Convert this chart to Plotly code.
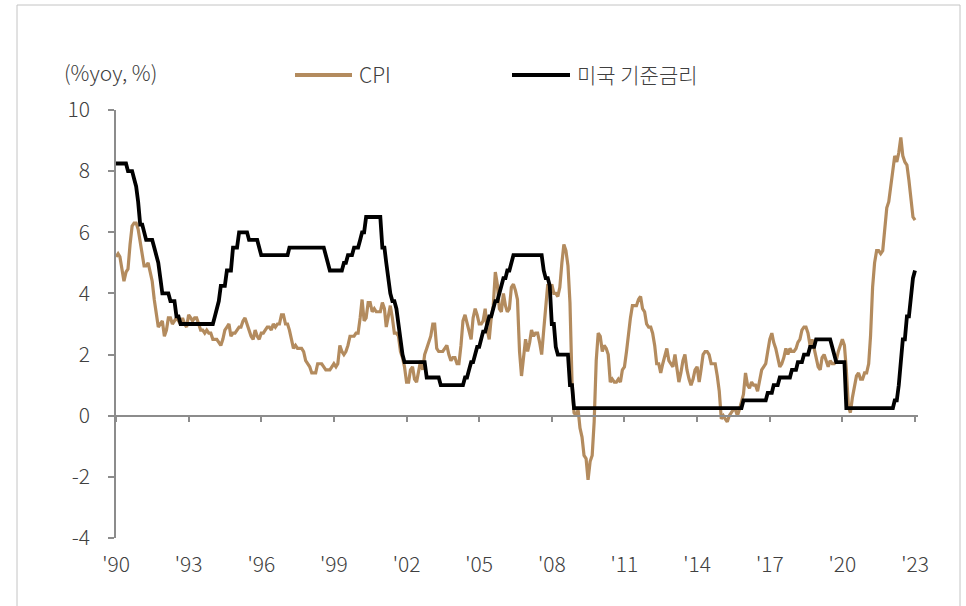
import pandas as pd
import plotly.graph_objects as go

# ---- data (monthly, Jan 1990 onward) ----
cpi_1990s = [
    5.2, 5.3, 5.2, 4.7, 4.4, 4.7, 4.8, 5.6, 6.2, 6.3, 6.3, 6.1,
    5.7, 5.3, 4.9, 4.9, 5.0, 4.7, 4.4, 3.8, 3.4, 2.9, 3.0, 3.1,
    2.6, 2.8, 3.2, 3.2, 3.0, 3.1, 3.2, 3.1, 3.0, 3.2, 3.0, 2.9,
    3.3, 3.2, 3.1, 3.2, 3.2, 3.0, 2.8, 2.8, 2.7, 2.8, 2.7, 2.7,
    2.5, 2.5, 2.5, 2.4, 2.3, 2.5, 2.8, 2.9, 3.0, 2.6, 2.7, 2.7,
    2.8, 2.9, 2.9, 3.1, 3.2, 3.0, 2.8, 2.6, 2.5, 2.8, 2.6, 2.5,
    2.7, 2.7, 2.8, 2.9, 2.9, 2.8, 3.0, 2.9, 3.0, 3.0, 3.3, 3.3,
    3.0, 3.0, 2.8, 2.5, 2.2, 2.3, 2.2, 2.2, 2.2, 2.1, 1.8, 1.7,
    1.6, 1.4, 1.4, 1.4, 1.7, 1.7, 1.7, 1.6, 1.5, 1.5, 1.5, 1.6,
    1.7, 1.6, 1.7, 2.3, 2.1, 2.0, 2.1, 2.3, 2.6, 2.6, 2.6, 2.7,
]
cpi_2000s = [
    2.7, 3.2, 3.8, 3.1, 3.2, 3.7, 3.7, 3.4, 3.5, 3.4, 3.4, 3.4,
    3.7, 3.5, 2.9, 3.3, 3.6, 3.2, 2.7, 2.7, 2.6, 2.1, 1.9, 1.6,
    1.1, 1.1, 1.5, 1.6, 1.2, 1.1, 1.5, 1.8, 1.5, 2.0, 2.2, 2.4,
    2.6, 3.0, 3.0, 2.2, 2.1, 2.1, 2.1, 2.2, 2.3, 2.0, 1.8, 1.9,
    1.9, 1.7, 1.7, 2.3, 3.1, 3.3, 3.0, 2.7, 2.5, 3.2, 3.5, 3.3,
    3.0, 3.0, 3.1, 3.5, 2.8, 2.5, 3.2, 3.6, 4.7, 4.3, 3.5, 3.4,
    4.0, 3.6, 3.4, 3.5, 4.2, 4.3, 4.1, 3.8, 2.1, 1.3, 2.0, 2.5,
    2.1, 2.4, 2.8, 2.6, 2.7, 2.7, 2.4, 2.0, 2.8, 3.5, 4.3, 4.1,
    4.3, 4.0, 4.0, 3.9, 4.2, 5.0, 5.6, 5.4, 4.9, 3.7, 1.1, 0.1,
    0.0, 0.2, -0.4, -0.7, -1.3, -1.4, -2.1, -1.5, -1.3, -0.2, 1.8, 2.7,
]
cpi_2010s = [
    2.6, 2.1, 2.3, 2.2, 2.0, 1.1, 1.2, 1.1, 1.1, 1.2, 1.1, 1.5,
    1.6, 2.1, 2.7, 3.2, 3.6, 3.6, 3.6, 3.8, 3.9, 3.5, 3.4, 3.0,
    2.9, 2.9, 2.7, 2.3, 1.7, 1.7, 1.4, 1.7, 2.0, 2.2, 1.8, 1.7,
    1.6, 2.0, 1.5, 1.1, 1.4, 1.8, 2.0, 1.5, 1.2, 1.0, 1.2, 1.5,
    1.6, 1.1, 1.5, 2.0, 2.1, 2.1, 2.0, 1.7, 1.7, 1.7, 1.3, 0.8,
    -0.1, 0.0, -0.1, -0.2, 0.0, 0.1, 0.2, 0.2, 0.0, 0.2, 0.5, 0.7,
    1.4, 1.0, 0.9, 1.1, 1.0, 1.0, 0.8, 1.1, 1.5, 1.6, 1.7, 2.1,
    2.5, 2.7, 2.4, 2.2, 1.9, 1.6, 1.7, 1.9, 2.2, 2.0, 2.2, 2.1,
    2.1, 2.2, 2.4, 2.5, 2.8, 2.9, 2.9, 2.7, 2.3, 2.5, 2.2, 1.9,
    1.6, 1.5, 1.9, 2.0, 1.8, 1.6, 1.8, 1.7, 1.7, 1.8, 2.1, 2.3,
]
cpi_2020s = [
    2.5, 2.3, 1.5, 0.3, 0.1, 0.6, 1.0, 1.3, 1.4, 1.2, 1.2, 1.4,
    1.4, 1.7, 2.6, 4.2, 5.0, 5.4, 5.4, 5.3, 5.4, 6.2, 6.8, 7.0,
    7.5, 7.9, 8.5, 8.3, 8.6, 9.1, 8.5, 8.3, 8.2, 7.7, 7.1, 6.5,
    6.4,
]

fed_1990s = [
    8.25, 8.25, 8.25, 8.25, 8.25, 8.25, 8.0, 8.0, 8.0, 7.75, 7.5, 7.0,
    6.25, 6.25, 6.0, 5.75, 5.75, 5.75, 5.75, 5.5, 5.25, 5.0, 4.5, 4.0,
    4.0, 4.0, 4.0, 3.75, 3.75, 3.75, 3.25, 3.25, 3.0, 3.0, 3.0, 3.0,
    3.0, 3.0, 3.0, 3.0, 3.0, 3.0, 3.0, 3.0, 3.0, 3.0, 3.0, 3.0,
    3.0, 3.25, 3.5, 3.75, 4.25, 4.25, 4.25, 4.75, 4.75, 4.75, 5.5, 5.5,
    5.5, 6.0, 6.0, 6.0, 6.0, 6.0, 5.75, 5.75, 5.75, 5.75, 5.75, 5.5,
    5.25, 5.25, 5.25, 5.25, 5.25, 5.25, 5.25, 5.25, 5.25, 5.25, 5.25, 5.25,
    5.25, 5.25, 5.5, 5.5, 5.5, 5.5, 5.5, 5.5, 5.5, 5.5, 5.5, 5.5,
    5.5, 5.5, 5.5, 5.5, 5.5, 5.5, 5.5, 5.5, 5.25, 5.0, 4.75, 4.75,
    4.75, 4.75, 4.75, 4.75, 4.75, 5.0, 5.0, 5.25, 5.25, 5.25, 5.5, 5.5,
]
fed_2000s = [
    5.5, 5.75, 6.0, 6.0, 6.5, 6.5, 6.5, 6.5, 6.5, 6.5, 6.5, 6.5,
    5.5, 5.5, 5.0, 4.5, 4.0, 3.75, 3.75, 3.5, 3.0, 2.5, 2.0, 1.75,
    1.75, 1.75, 1.75, 1.75, 1.75, 1.75, 1.75, 1.75, 1.75, 1.75, 1.25, 1.25,
    1.25, 1.25, 1.25, 1.25, 1.25, 1.0, 1.0, 1.0, 1.0, 1.0, 1.0, 1.0,
    1.0, 1.0, 1.0, 1.0, 1.0, 1.25, 1.25, 1.5, 1.75, 1.75, 2.0, 2.25,
    2.25, 2.5, 2.75, 2.75, 3.0, 3.25, 3.25, 3.5, 3.75, 3.75, 4.0, 4.25,
    4.5, 4.5, 4.75, 4.75, 5.0, 5.25, 5.25, 5.25, 5.25, 5.25, 5.25, 5.25,
    5.25, 5.25, 5.25, 5.25, 5.25, 5.25, 5.25, 5.25, 4.75, 4.5, 4.5, 4.25,
    3.0, 3.0, 2.25, 2.0, 2.0, 2.0, 2.0, 2.0, 2.0, 1.0, 1.0, 0.25,
    0.25, 0.25, 0.25, 0.25, 0.25, 0.25, 0.25, 0.25, 0.25, 0.25, 0.25, 0.25,
]
fed_2010s = [
    0.25, 0.25, 0.25, 0.25, 0.25, 0.25, 0.25, 0.25, 0.25, 0.25, 0.25, 0.25,
    0.25, 0.25, 0.25, 0.25, 0.25, 0.25, 0.25, 0.25, 0.25, 0.25, 0.25, 0.25,
    0.25, 0.25, 0.25, 0.25, 0.25, 0.25, 0.25, 0.25, 0.25, 0.25, 0.25, 0.25,
    0.25, 0.25, 0.25, 0.25, 0.25, 0.25, 0.25, 0.25, 0.25, 0.25, 0.25, 0.25,
    0.25, 0.25, 0.25, 0.25, 0.25, 0.25, 0.25, 0.25, 0.25, 0.25, 0.25, 0.25,
    0.25, 0.25, 0.25, 0.25, 0.25, 0.25, 0.25, 0.25, 0.25, 0.25, 0.25, 0.5,
    0.5, 0.5, 0.5, 0.5, 0.5, 0.5, 0.5, 0.5, 0.5, 0.5, 0.5, 0.75,
    0.75, 0.75, 1.0, 1.0, 1.0, 1.25, 1.25, 1.25, 1.25, 1.25, 1.25, 1.5,
    1.5, 1.5, 1.75, 1.75, 1.75, 2.0, 2.0, 2.0, 2.25, 2.25, 2.25, 2.5,
    2.5, 2.5, 2.5, 2.5, 2.5, 2.5, 2.5, 2.25, 2.0, 1.75, 1.75, 1.75,
]
fed_2020s = [
    1.75, 1.75, 0.25, 0.25, 0.25, 0.25, 0.25, 0.25, 0.25, 0.25, 0.25, 0.25,
    0.25, 0.25, 0.25, 0.25, 0.25, 0.25, 0.25, 0.25, 0.25, 0.25, 0.25, 0.25,
    0.25, 0.25, 0.5, 0.5, 1.0, 1.75, 2.5, 2.5, 3.25, 3.25, 4.0, 4.5,
    4.75,
]

cpi = cpi_1990s + cpi_2000s + cpi_2010s + cpi_2020s
fed = fed_1990s + fed_2000s + fed_2010s + fed_2020s

tick_years = [1990, 1993, 1996, 1999, 2002, 2005, 2008, 2011, 2014, 2017, 2020, 2023]
tick_labels = ["'90", "'93", "'96", "'99", "'02", "'05", "'08", "'11", "'14", "'17", "'20", "'23"]
y_ticks = [-4, -2, 0, 2, 4, 6, 8, 10]
y_tick_labels = ["-4", "-2", "0", "2", "4", "6", "8", "10"]

series_names = ["CPI", "미국 기준금리"]
series_colors = ["#B38B5E", "#000000"]

months = pd.date_range("1990-01-01", periods=len(cpi), freq="MS")
months_fed = pd.date_range("1990-01-01", periods=len(fed), freq="MS")
tick_dates = [pd.Timestamp(year=y, month=1, day=1) for y in tick_years]

X_RANGE = ["1990-01-01", "2023-02-15"]
Y_RANGE = [-4, 10]
FONT = "Noto Sans CJK KR, Noto Sans, sans-serif"
TXT = "#404040"
AXC = "#8C8C8C"

# plot-area geometry in pixels
W, H = 966, 606
L, R, T, B = 116, 48, 110, 68
PW, PH = W - L - R, H - T - B


def px(xp):
    return (xp - L) / PW


def py(yp):
    return (H - B - yp) / PH


fig = go.Figure()
fig.add_trace(go.Scatter(x=months, y=cpi, mode="lines", name=series_names[0],
                         line=dict(color=series_colors[0], width=3.2),
                         showlegend=False, hoverinfo="x+y"))
fig.add_trace(go.Scatter(x=months_fed, y=fed, mode="lines", name=series_names[1],
                         line=dict(color=series_colors[1], width=3.8),
                         showlegend=False, hoverinfo="x+y"))
# empty helper trace so the zero-line axis is rendered
fig.add_trace(go.Scatter(x=[], y=[], xaxis="x2", yaxis="y", showlegend=False,
                         hoverinfo="skip"))

shapes = []
annotations = []
# outer light frame
frame = dict(type="line", xref="paper", yref="paper",
             line=dict(color="#C4C4C4", width=1))
shapes.append(dict(frame, x0=px(17), x1=px(960), y0=py(5), y1=py(5)))
shapes.append(dict(frame, x0=px(17), x1=px(17), y0=py(5), y1=py(620)))
shapes.append(dict(frame, x0=px(960), x1=px(960), y0=py(5), y1=py(620)))

# manual legend
leg = [(295, 352, 357), (512, 570, 575)]
for (a, b, t), name, col in zip(leg, series_names, series_colors):
    shapes.append(dict(type="line", xref="paper", yref="paper",
                       x0=px(a), x1=px(b), y0=py(75), y1=py(75),
                       line=dict(color=col, width=4)))
    annotations.append(dict(xref="paper", yref="paper", x=px(t), y=py(74),
                            xanchor="left", yanchor="middle", showarrow=False,
                            text=name, font=dict(family=FONT, size=21, color=TXT, weight=300)))

annotations.append(dict(xref="paper", yref="paper", x=px(62), y=py(72),
                        xanchor="left", yanchor="middle", showarrow=False,
                        text="(%yoy, %)", font=dict(family=FONT, size=21, color=TXT, weight=300)))

fig.update_layout(
    width=W, height=H,
    margin=dict(l=L, r=R, t=T, b=B, pad=0),
    paper_bgcolor="white", plot_bgcolor="white",
    font=dict(family=FONT, size=21, color=TXT, weight=300),
    showlegend=False,
    xaxis=dict(type="date", range=X_RANGE, showline=False, ticks="",
               tickvals=tick_dates, ticktext=tick_labels, showgrid=False,
               zeroline=False, ticklabelstandoff=12,
               tickfont=dict(family=FONT, size=21, color=TXT, weight=300)),
    xaxis2=dict(type="date", range=X_RANGE, overlaying="x", anchor="free",
                position=(0 - Y_RANGE[0]) / (Y_RANGE[1] - Y_RANGE[0]),
                side="bottom", showline=True, linecolor=AXC, linewidth=1.5,
                ticks="outside", ticklen=6, tickwidth=1.5, tickcolor=AXC,
                tickvals=tick_dates, showticklabels=False, showgrid=False,
                zeroline=False),
    yaxis=dict(range=Y_RANGE, tickvals=y_ticks, ticktext=y_tick_labels,
               showline=True, linecolor=AXC,
               linewidth=1.5, ticks="outside", ticklen=6, tickwidth=1.5,
               tickcolor=AXC, showgrid=False, zeroline=False,
               ticklabelstandoff=14,
               tickfont=dict(family=FONT, size=21, color=TXT, weight=300)),
    shapes=shapes,
    annotations=annotations,
)

fig.write_html("out.html", config={"displayModeBar": False},
               post_script="document.body.style.margin='0px';document.body.style.overflow='hidden';")
